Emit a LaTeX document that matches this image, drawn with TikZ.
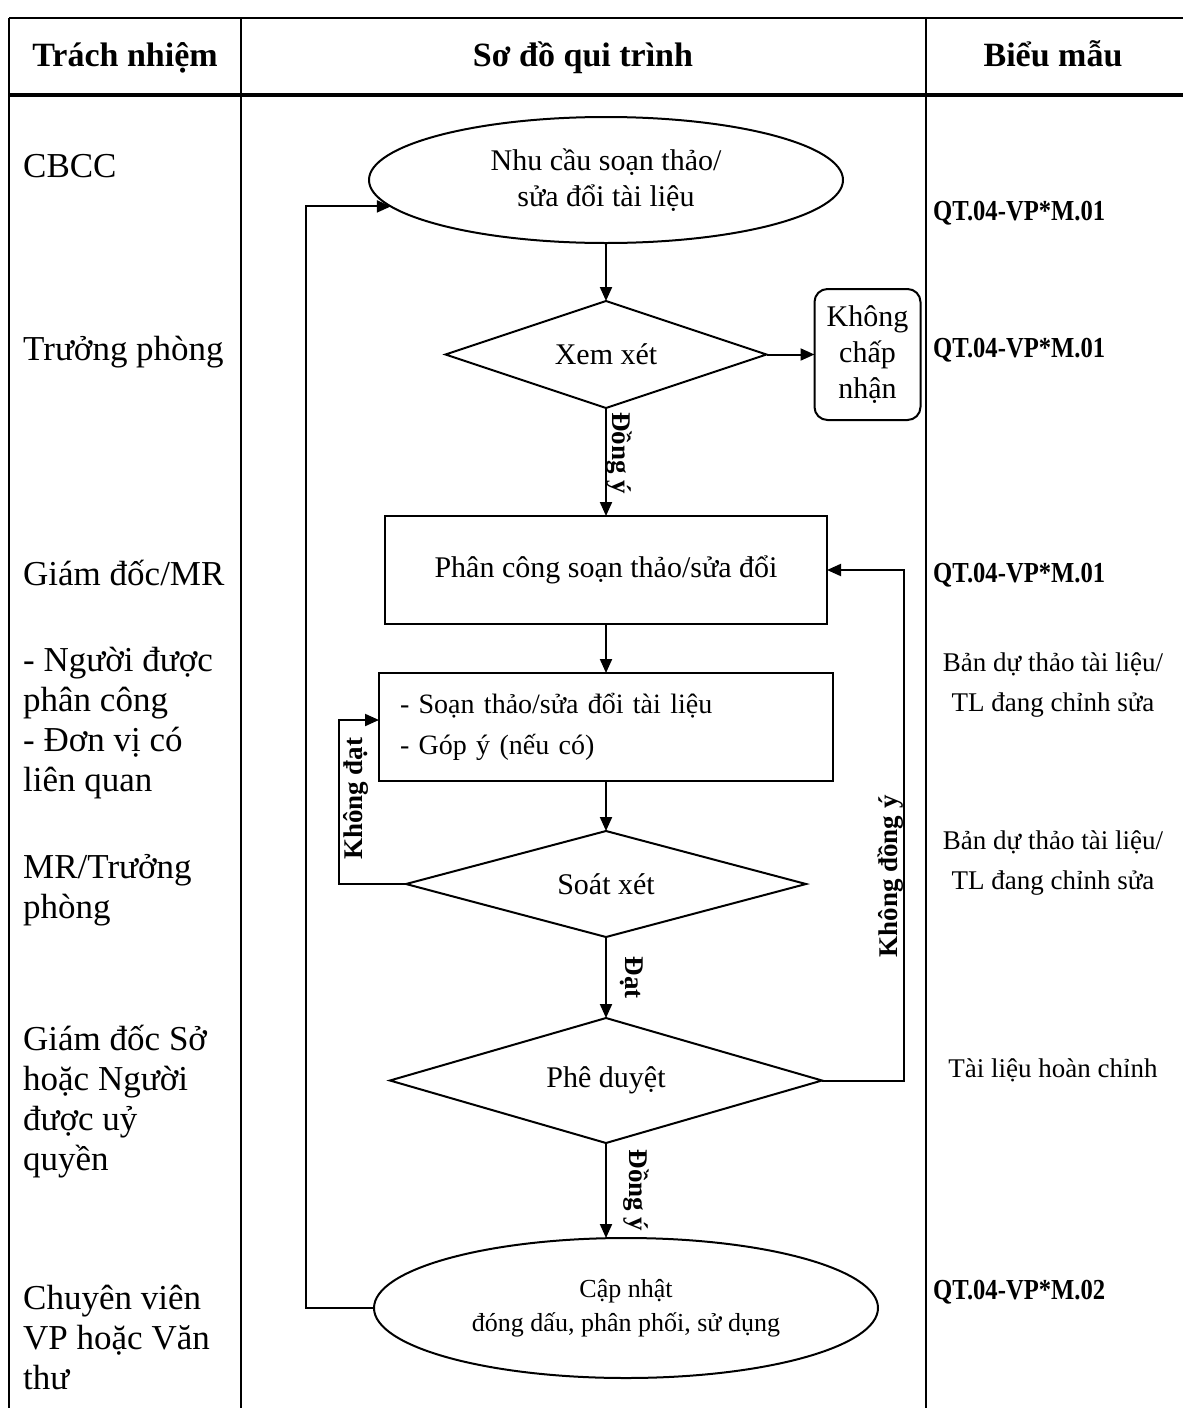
\documentclass[tikz,border=0pt]{standalone}
\usepackage{fontspec}
\setmainfont{Liberation Serif}
\newfontfamily\formfont[FakeStretch=0.85]{Liberation Serif}
\usetikzlibrary{positioning,shapes.geometric,arrows.meta}

\tikzset{
  arr/.style={-{Triangle[length=14pt,width=12pt]}, line width=2pt},
  grid/.style={line width=2pt},
  flow/.style={draw, line width=2pt, inner sep=0pt, outer sep=0pt, align=center, font=\fontsize{30}{36}\selectfont},
  oval/.style={flow, ellipse},
  decide/.style={flow, diamond, shape aspect=4},
  stepbox/.style={flow, rectangle, minimum width=442pt, minimum height=108pt},
  role/.style={anchor=west, align=left, inner sep=0pt, font=\fontsize{35}{40}\selectfont},
  head/.style={anchor=base, font=\bfseries\fontsize{34}{40}\selectfont},
  form/.style={align=center, font=\fontsize{27}{40}\selectfont},
  code/.style={anchor=west, inner sep=0pt, font=\formfont\bfseries\fontsize{29}{34}\selectfont},
  lbl/.style={inner sep=0pt, font=\bfseries\fontsize{27}{30}\selectfont}
}

\begin{document}
\begin{tikzpicture}[x=1pt, y=-1pt]
\useasboundingbox (0,0) rectangle (1183,1408);

\draw[grid] (9,18) -- (1183,18);
\draw[line width=4pt] (9,95) -- (1183,95);
\foreach \x in {9,241,926} \draw[grid] (\x,18) -- (\x,1408);

\node[head] (h1) at (125,66) {Trách nhiệm};
\node[head] (h2) at (583,66) {Sơ đồ qui trình};
\node[head] (h3) at (1053,66) {Biểu mẫu};

\node[oval, minimum width=474pt, minimum height=126pt] (start) at (606,180) {Nhu cầu soạn thảo/\\sửa đổi tài liệu};
\node[decide, minimum width=321pt, minimum height=107pt, below=58pt of start] (review) {Xem xét};
\node[flow, rounded corners=13pt, minimum width=106pt, minimum height=131pt, right=48pt of review] (reject) {Không\\chấp\\nhận};
\node[stepbox, below=108pt of review] (assign) {Phân công soạn thảo/sửa đổi};
\node[stepbox, minimum width=454pt, text width=412pt, align=left, inner xsep=21pt, font=\fontsize{28}{41}\selectfont, below=49pt of assign] (draft) {- Soạn thảo/sửa đổi tài liệu\\- Góp ý (nếu có)};
\node[decide, minimum width=400pt, minimum height=106pt, below=50pt of draft] (check) {Soát xét};
\node[decide, minimum width=432pt, minimum height=125pt, below=81pt of check] (approve) {Phê duyệt};
\node[oval, minimum width=504pt, minimum height=140pt, font=\fontsize{26}{34}\selectfont, below=95pt of approve, xshift=20pt] (update) {Cập nhật\\đóng dấu, phân phối, sử dụng};

\draw[arr] (start) -- (review);
\draw[arr] (review) -- (reject);
\draw[arr] (review) -- node[lbl, rotate=-90, anchor=south, pos=0.42, outer ysep=1pt] {Đồng ý} (assign);
\draw[arr] (assign) -- (draft);
\draw[arr] (draft) -- (check);
\draw[arr] (check) -- node[lbl, rotate=-90, anchor=south, outer ysep=14pt] {Đạt} (approve);
\draw[arr] (approve.south) -- node[lbl, rotate=-90, anchor=south, outer ysep=18pt] {Đồng ý} (approve.south |- update.north);
\draw[arr] (check.west) -- ++(-67,0) |- node[lbl, rotate=90, anchor=north, pos=0.26, outer ysep=4pt] {Không đạt} ([yshift=7pt]draft.west);
\draw[arr] (approve.east) -- ++(82,0) |- node[lbl, rotate=90, anchor=south, pos=0.2] {Không đồng ý} (assign.east);
\draw[arr] (update.west) -- ++(-68,0) |- (start.187);

\node[role] (r1) at (23,166) {CBCC};
\node[role] (r2) at (23,352) {Trưởng phòng};
\node[role] (r3) at (23,573) {Giám đốc/MR};
\node[role] (r4) at (23,723) {- Người được\\phân công\\- Đơn vị có\\liên quan};
\node[role] (r5) at (23,890) {MR/Trưởng\\phòng};
\node[role] (r6) at (23,1102) {Giám đốc Sở\\hoặc Người\\được uỷ\\quyền};
\node[role] (r7) at (23,1337) {Chuyên viên\\VP hoặc Văn\\thư};

\node[code] (f1) at (933,213) {QT.04-VP*M.01};
\node[code] (f2) at (933,350) {QT.04-VP*M.01};
\node[code] (f3) at (933,575) {QT.04-VP*M.01};
\node[form] (f4) at (1053,685) {Bản dự thảo tài liệu/\\TL đang chỉnh sửa};
\node[form] (f5) at (1053,863) {Bản dự thảo tài liệu/\\TL đang chỉnh sửa};
\node[form] (f6) at (1053,1070) {Tài liệu hoàn chỉnh};
\node[code] (f7) at (933,1292) {QT.04-VP*M.02};
\end{tikzpicture}
\end{document}
